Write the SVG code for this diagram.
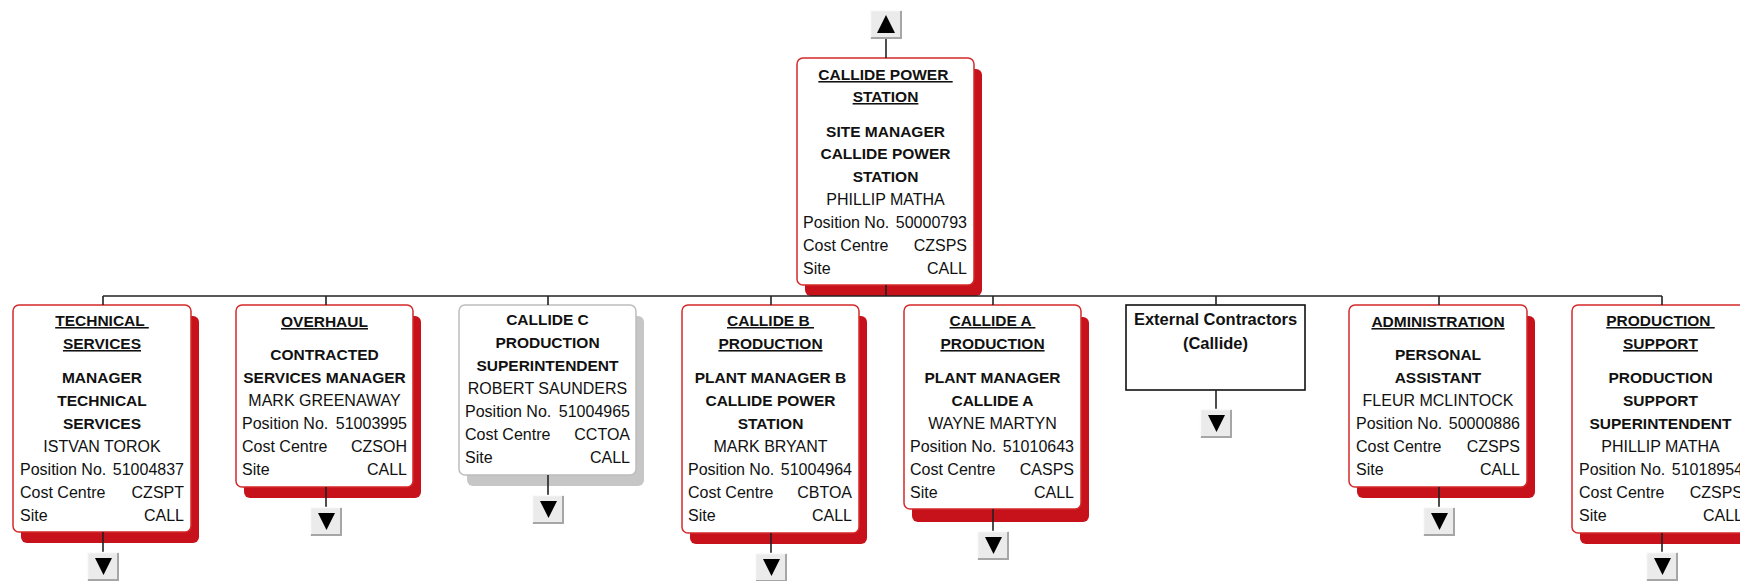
<svg xmlns="http://www.w3.org/2000/svg" xmlns:xlink="http://www.w3.org/1999/xlink" width="1740" height="581" viewBox="0 0 1740 581">
<style>
.box{fill:#fff;stroke:#d42a2a;stroke-width:1.5}
.sh{fill:#c8121b}
.gbox{fill:#fff;stroke:#bdbdbd;stroke-width:1.5}
.gsh{fill:#c6c6c6}
.xbox{fill:#fff;stroke:#111;stroke-width:1.6}
text{font-family:"Liberation Sans",Arial,sans-serif;fill:#111}
.b{font-size:15.5px;font-weight:bold;text-anchor:middle}
.u{text-decoration:underline}
.r{font-size:16px}
.m{text-anchor:middle}
.e{text-anchor:end}
.x{font-size:16.5px;font-weight:bold;text-anchor:middle}
.ln{stroke:#222;stroke-width:1.6;fill:none}
.bf{fill:#ebebeb}
.bd{stroke:#a6a6a6;stroke-width:2;fill:none}
.bl{stroke:#fbfbfb;stroke-width:1.5;fill:none}
.tri{fill:#000}
</style>
<defs>
<g id="dn">
<rect class="bf" x="0" y="0" width="32" height="29"/>
<path class="bl" d="M0.5,28 V0.5 H31"/>
<path class="bd" d="M1,28 H31 V1"/>
<polygon class="tri" points="8,6 25,6 16.5,23"/>
</g>
<g id="up">
<rect class="bf" x="0" y="0" width="32" height="29"/>
<path class="bl" d="M0.5,28 V0.5 H31"/>
<path class="bd" d="M1,28 H31 V1"/>
<polygon class="tri" points="16,5 7,23 25,23"/>
</g>
</defs>

<g id="node-top">
<rect class="sh" x="805" y="69" width="177" height="227" rx="6"/>
<rect class="box" x="797" y="58" width="177" height="227" rx="6"/>
<text class="b u" x="885.5" y="80" xml:space="preserve">CALLIDE POWER </text>
<text class="b u" x="885.5" y="102">STATION</text>
<text class="b" x="885.5" y="137">SITE MANAGER</text>
<text class="b" x="885.5" y="159">CALLIDE POWER</text>
<text class="b" x="885.5" y="182">STATION</text>
<text class="r m" x="885.5" y="205">PHILLIP MATHA</text>
<text class="r" x="803" y="228">Position No.</text><text class="r e" x="967" y="228">50000793</text>
<text class="r" x="803" y="251">Cost Centre</text><text class="r e" x="967" y="251">CZSPS</text>
<text class="r" x="803" y="274">Site</text><text class="r e" x="967" y="274">CALL</text>
</g>

<g id="node-technical">
<rect class="sh" x="21" y="316" width="178" height="227" rx="6"/>
<rect class="box" x="13" y="305" width="178" height="227" rx="6"/>
<text class="b u" x="102" y="326" xml:space="preserve">TECHNICAL </text>
<text class="b u" x="102" y="349">SERVICES</text>
<text class="b" x="102" y="383">MANAGER</text>
<text class="b" x="102" y="406">TECHNICAL</text>
<text class="b" x="102" y="429">SERVICES</text>
<text class="r m" x="102" y="452">ISTVAN TOROK</text>
<text class="r" x="20" y="475">Position No.</text><text class="r e" x="184" y="475">51004837</text>
<text class="r" x="20" y="498">Cost Centre</text><text class="r e" x="184" y="498">CZSPT</text>
<text class="r" x="20" y="521">Site</text><text class="r e" x="184" y="521">CALL</text>
</g>

<g id="node-overhaul">
<rect class="sh" x="244" y="316" width="177" height="182" rx="6"/>
<rect class="box" x="236" y="305" width="177" height="182" rx="6"/>
<text class="b u" x="324.5" y="327">OVERHAUL</text>
<text class="b" x="324.5" y="360">CONTRACTED</text>
<text class="b" x="324.5" y="383">SERVICES MANAGER</text>
<text class="r m" x="324.5" y="406">MARK GREENAWAY</text>
<text class="r" x="242" y="429">Position No.</text><text class="r e" x="407" y="429">51003995</text>
<text class="r" x="242" y="452">Cost Centre</text><text class="r e" x="407" y="452">CZSOH</text>
<text class="r" x="242" y="475">Site</text><text class="r e" x="407" y="475">CALL</text>
</g>

<g id="node-callide-c">
<rect class="gsh" x="467" y="316" width="177" height="170" rx="6"/>
<rect class="gbox" x="459" y="305" width="177" height="170" rx="6"/>
<text class="b" x="547.5" y="325">CALLIDE C</text>
<text class="b" x="547.5" y="348">PRODUCTION</text>
<text class="b" x="547.5" y="371">SUPERINTENDENT</text>
<text class="r m" x="547.5" y="394">ROBERT SAUNDERS</text>
<text class="r" x="465" y="417">Position No.</text><text class="r e" x="630" y="417">51004965</text>
<text class="r" x="465" y="440">Cost Centre</text><text class="r e" x="630" y="440">CCTOA</text>
<text class="r" x="465" y="463">Site</text><text class="r e" x="630" y="463">CALL</text>
</g>

<g id="node-callide-b">
<rect class="sh" x="690" y="316" width="177" height="228" rx="6"/>
<rect class="box" x="682" y="305" width="177" height="228" rx="6"/>
<text class="b u" x="770.5" y="326" xml:space="preserve">CALLIDE B </text>
<text class="b u" x="770.5" y="349">PRODUCTION</text>
<text class="b" x="770.5" y="383">PLANT MANAGER B</text>
<text class="b" x="770.5" y="406">CALLIDE POWER</text>
<text class="b" x="770.5" y="429">STATION</text>
<text class="r m" x="770.5" y="452">MARK BRYANT</text>
<text class="r" x="688" y="475">Position No.</text><text class="r e" x="852" y="475">51004964</text>
<text class="r" x="688" y="498">Cost Centre</text><text class="r e" x="852" y="498">CBTOA</text>
<text class="r" x="688" y="521">Site</text><text class="r e" x="852" y="521">CALL</text>
</g>

<g id="node-callide-a">
<rect class="sh" x="912" y="317" width="177" height="205" rx="6"/>
<rect class="box" x="904" y="305" width="177" height="204" rx="6"/>
<text class="b u" x="992.5" y="326" xml:space="preserve">CALLIDE A </text>
<text class="b u" x="992.5" y="349">PRODUCTION</text>
<text class="b" x="992.5" y="383">PLANT MANAGER</text>
<text class="b" x="992.5" y="406">CALLIDE A</text>
<text class="r m" x="992.5" y="429">WAYNE MARTYN</text>
<text class="r" x="910" y="452">Position No.</text><text class="r e" x="1074" y="452">51010643</text>
<text class="r" x="910" y="475">Cost Centre</text><text class="r e" x="1074" y="475">CASPS</text>
<text class="r" x="910" y="498">Site</text><text class="r e" x="1074" y="498">CALL</text>
</g>

<g id="node-external">
<rect class="xbox" x="1126" y="305" width="179" height="85"/>
<text class="x" x="1215.5" y="325">External Contractors</text>
<text class="x" x="1215.5" y="349">(Callide)</text>
</g>

<g id="node-administration">
<rect class="sh" x="1357" y="316" width="178" height="182" rx="6"/>
<rect class="box" x="1349" y="305" width="178" height="182" rx="6"/>
<text class="b u" x="1438" y="327">ADMINISTRATION</text>
<text class="b" x="1438" y="360">PERSONAL</text>
<text class="b" x="1438" y="383">ASSISTANT</text>
<text class="r m" x="1438" y="406">FLEUR MCLINTOCK</text>
<text class="r" x="1356" y="429">Position No.</text><text class="r e" x="1520" y="429">50000886</text>
<text class="r" x="1356" y="452">Cost Centre</text><text class="r e" x="1520" y="452">CZSPS</text>
<text class="r" x="1356" y="475">Site</text><text class="r e" x="1520" y="475">CALL</text>
</g>

<g id="node-production-support">
<rect class="sh" x="1580" y="316" width="177" height="228" rx="6"/>
<rect class="box" x="1572" y="305" width="177" height="228" rx="6"/>
<text class="b u" x="1660.5" y="326" xml:space="preserve">PRODUCTION </text>
<text class="b u" x="1660.5" y="349">SUPPORT</text>
<text class="b" x="1660.5" y="383">PRODUCTION</text>
<text class="b" x="1660.5" y="406">SUPPORT</text>
<text class="b" x="1660.5" y="429">SUPERINTENDENT</text>
<text class="r m" x="1660.5" y="452">PHILLIP MATHA</text>
<text class="r" x="1579" y="475">Position No.</text><text class="r e" x="1743" y="475">51018954</text>
<text class="r" x="1579" y="498">Cost Centre</text><text class="r e" x="1743" y="498">CZSPS</text>
<text class="r" x="1579" y="521">Site</text><text class="r e" x="1743" y="521">CALL</text>
</g>

<g id="connectors">
<path class="ln" d="M886,39 V58"/>
<path class="ln" d="M886,285 V296"/>
<path class="ln" d="M103,296 H1662"/>
<path class="ln" d="M103,296 V305 M326,296 V305 M548,296 V305 M771,296 V305 M993,296 V305 M1216,296 V305 M1439,296 V305 M1662,296 V305"/>
<path class="ln" d="M103,532 V552 M326,487 V507 M548,475 V495 M771,533 V553 M993,509 V531 M1216,390 V409 M1439,487 V507 M1662,533 V552"/>
</g>

<g id="expand-buttons">
<use xlink:href="#up" x="870" y="10"/>
<use xlink:href="#dn" x="87" y="552"/>
<use xlink:href="#dn" x="310" y="507"/>
<use xlink:href="#dn" x="532" y="495"/>
<use xlink:href="#dn" x="755" y="553"/>
<use xlink:href="#dn" x="977" y="531"/>
<use xlink:href="#dn" x="1200" y="409"/>
<use xlink:href="#dn" x="1423" y="507"/>
<use xlink:href="#dn" x="1646" y="552"/>
</g>
</svg>
